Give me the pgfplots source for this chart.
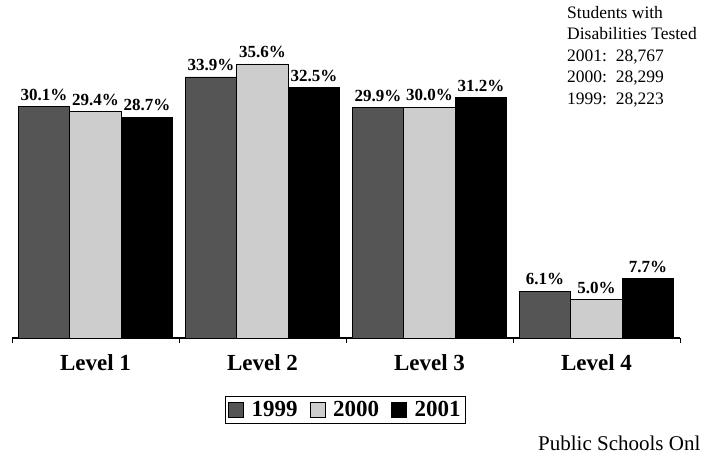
\documentclass[border=0pt]{standalone}
\usepackage{fontspec}
\setmainfont{Liberation Serif}
\usepackage{pgfplots}
\pgfplotsset{compat=1.18}
\definecolor{cA}{HTML}{555555}
\definecolor{cB}{HTML}{CDCDCD}
\definecolor{cC}{HTML}{000000}
\begin{document}
\begin{tikzpicture}[x=1pt,y=1pt]
\useasboundingbox (0,0) rectangle (701,459);
\begin{axis}[
  at={(12pt,121pt)}, anchor=south west,
  scale only axis, width=668pt, height=308pt,
  xmin=-0.5, xmax=3.5, ymin=0, ymax=40,
  /pgf/number format/assume math mode=true,
  axis x line=bottom, axis y line=none,
  x axis line style={-, line width=1.3pt},
  xtick={0,1,2,3},
  xticklabels={Level 1,Level 2,Level 3,Level 4},
  major tick length=0pt,
  xticklabel style={font=\bfseries\fontsize{23}{23}\selectfont, yshift=-13pt},
  extra x ticks={-0.5,0.5,1.5,2.5,3.5},
  extra x tick labels={},
  extra x tick style={major tick length=5pt, tick align=outside, tick style={line width=1pt, black}},
  ybar=0pt, bar width=51.5pt,
  nodes near coords={\pgfmathprintnumber[fixed,precision=1,fixed zerofill,assume math mode=true]{\pgfplotspointmeta}\%},
  every node near coord/.append style={font=\bfseries\fontsize{17}{17}\selectfont, inner sep=5.5pt, black},
  area legend,
  legend columns=3,
  legend image code/.code={\draw[#1, draw=black, line width=0.6pt] (0pt,-7pt) rectangle (15pt,8pt);},
  legend style={at={(axis description cs:0.499,-0.234)}, anchor=center,
    draw=black, line width=0.8pt, font=\bfseries\fontsize{23}{23}\selectfont,
    inner sep=3pt,
    /tikz/every even column/.append style={column sep=10pt},
    /tikz/every odd column/.append style={column sep=6pt}},
]
\addplot[fill=cA, draw=black, line width=0.6pt] coordinates {(0,30.1) (1,33.9) (2,29.9) (3,6.1)};
\addplot[fill=cB, draw=black, line width=0.6pt] coordinates {(0,29.4) (1,35.6) (2,30.0) (3,5.0)};
\addplot[fill=cC, draw=black, line width=0.6pt] coordinates {(0,28.7) (1,32.5) (2,31.2) (3,7.7)};
\legend{1999,2000,2001}
\end{axis}
\node[anchor=north west, align=left, inner sep=0pt, font=\fontsize{17.5}{21.5}\selectfont] at (567,453)
  {Students with\\Disabilities Tested\\2001:\ \ 28,767\\2000:\ \ 28,299\\1999:\ \ 28,223};
\node[anchor=base west, inner sep=0pt, font=\fontsize{21}{21}\selectfont] at (538,9) {Public Schools Onl};
\end{tikzpicture}
\end{document}
